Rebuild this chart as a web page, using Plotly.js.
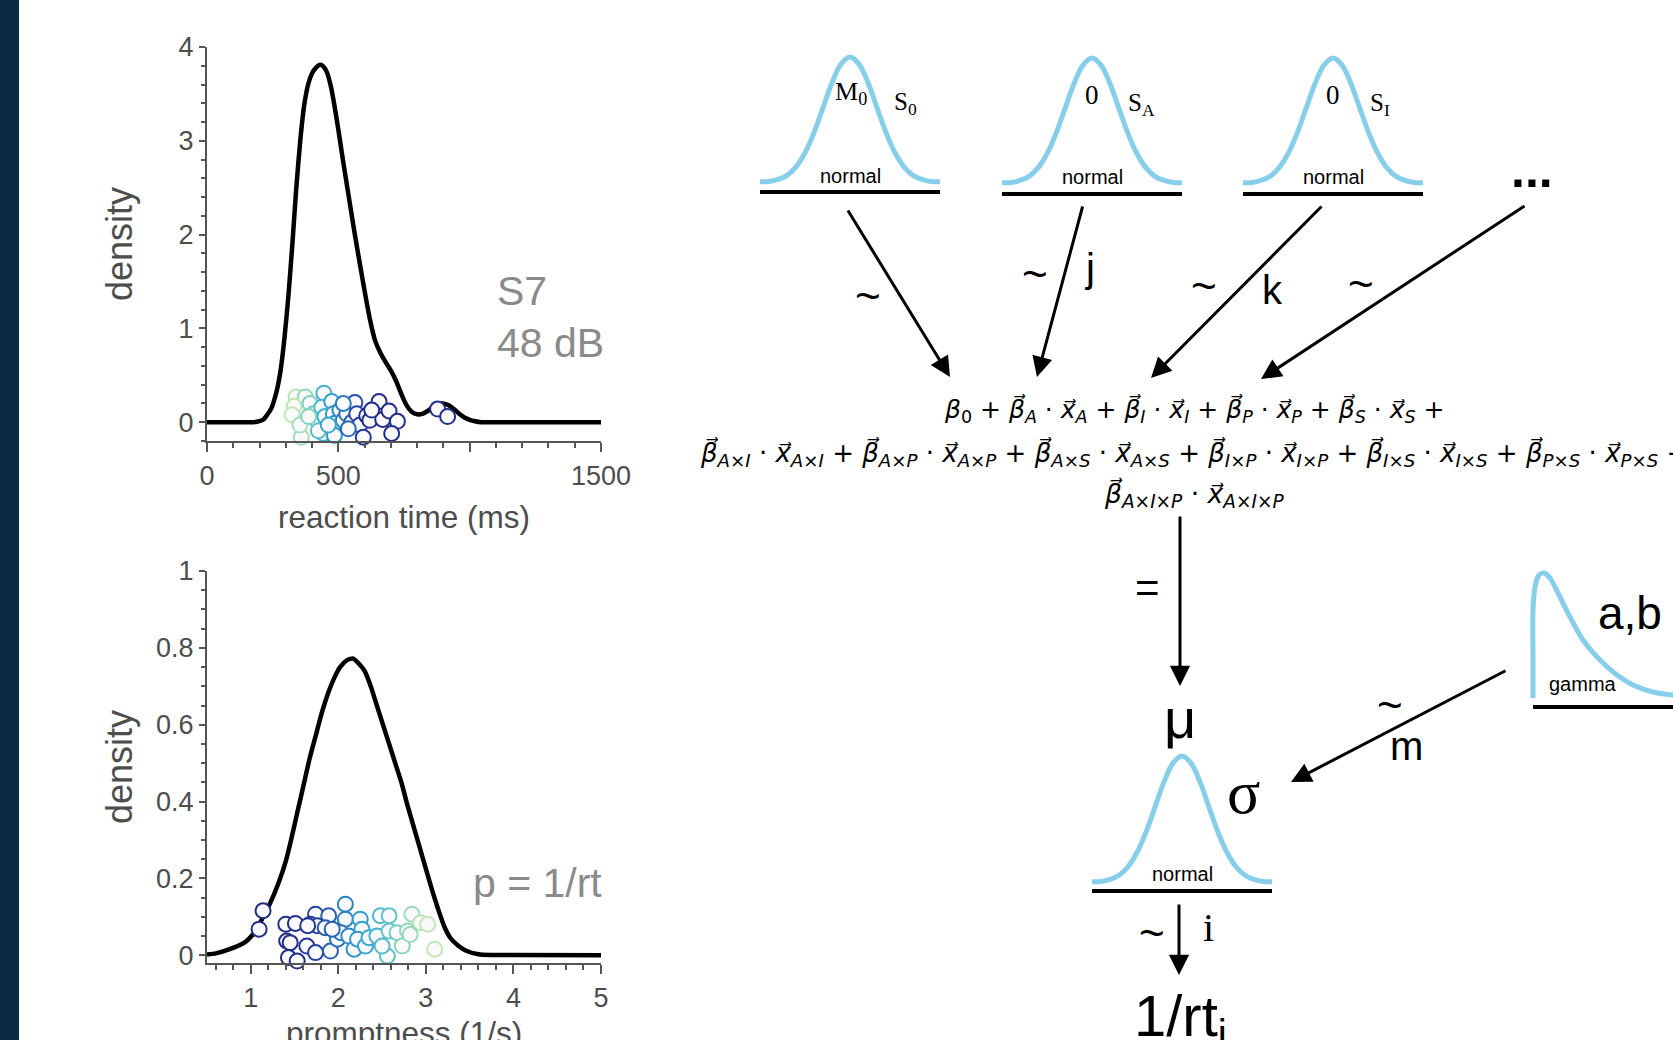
<!DOCTYPE html>
<html><head><meta charset="utf-8">
<script src="https://cdn.plot.ly/plotly-3.0.1.min.js"></script>
<style>html,body{margin:0;padding:0;background:#fff}#chart{width:1673px;height:1040px}</style>
</head><body><div id="chart"></div>
<script>
// ---------- data: reaction-time density (top panel) ----------
const rtGrid = [0,150,190,215,245,265,280,295,310,325,340,355,370,385,400,415,430,440,455,470,485,500,520,540,560,580,600,620,640,660,680,700,720,740,760,780,800,820,840,860,880,900,920,940,960,980,1000,1020,1045,1100,1500];
const rtDensity = [0,0,0.005,0.03,0.15,0.33,0.55,0.9,1.35,1.9,2.5,3.0,3.38,3.6,3.72,3.78,3.81,3.8,3.74,3.6,3.38,3.12,2.75,2.4,2.05,1.72,1.4,1.1,0.87,0.74,0.64,0.55,0.44,0.3,0.18,0.11,0.085,0.09,0.12,0.16,0.19,0.2,0.18,0.14,0.09,0.05,0.025,0.01,0,0,0];
const rtPoints = [339,374,332,324,359,354,392,405,418,445,437,449,443,475,481,487,485,506,519,532,563,551,570,582,595,608,620,655,669,693,725,703,878,916,387,424,462,538,627,519];
const rtJitter = [0.27,0.27,0.17,0.08,-0.16,-0.03,0.20,0.09,0.02,0.31,0.16,0.06,-0.12,0.22,0.09,-0.01,-0.14,0.13,0.02,0.09,0.21,0.00,0.09,-0.03,-0.16,0.07,0.02,0.22,0.03,0.12,0.01,-0.12,0.14,0.06,0.06,-0.09,-0.03,-0.07,0.13,0.20];

// ---------- data: promptness density (bottom panel) ----------
const pGrid = [0.5,0.6,0.76,0.94,1.0,1.05,1.13,1.22,1.32,1.4,1.46,1.53,1.6,1.67,1.74,1.81,1.88,1.95,2.02,2.1,2.17,2.23,2.3,2.37,2.44,2.51,2.58,2.65,2.72,2.79,2.86,2.93,3.0,3.07,3.14,3.21,3.28,3.37,3.46,3.6,3.74,4.0,5.0];
const pDensity = [0.002,0.005,0.016,0.035,0.048,0.062,0.095,0.135,0.19,0.245,0.30,0.37,0.44,0.51,0.57,0.63,0.68,0.72,0.75,0.768,0.772,0.76,0.74,0.70,0.65,0.60,0.55,0.50,0.45,0.39,0.335,0.28,0.225,0.17,0.12,0.075,0.045,0.025,0.012,0.003,0.001,0.0005,0];
const pPoints = [1.14,1.095,1.40,1.51,1.41,1.45,1.43,1.53,1.64,1.74,1.89,1.68,1.76,1.85,1.74,1.91,1.99,2.08,2.08,2.03,2.12,2.18,2.25,2.27,2.22,2.31,2.35,2.48,2.58,2.44,2.58,2.56,2.50,2.67,2.73,2.79,2.84,2.94,3.02,2.82,3.10,1.93,1.65];
const pJitter = [0.116,0.068,0.081,0.083,0.037,0.033,-0.006,-0.015,0.024,0.107,0.103,0.081,0.077,0.072,0.007,0.011,0.042,0.133,0.094,0.059,0.050,0.016,0.094,0.068,0.042,0.024,0.046,0.103,0.103,0.050,0.063,-0.002,0.024,0.059,0.024,0.063,0.107,0.085,0.081,0.054,0.016,0.068,0.077];

// ---------- ticks ----------
const rtTicks = [0,500,1000,1500];
const rtTickText = ['0','500','','1500'];
const densTopTicks = [0,1,2,3,4];
const pTicks = [1,2,3,4,5];
const densBotTicks = [0,0.2,0.4,0.6,0.8,1];
const densBotText = ['0','0.2','0.4','0.6','0.8','1'];

// ---------- model diagram (pixel layout on a hidden axis) ----------
const bellShapeDx = [-1,-0.9,-0.8,-0.7,-0.6,-0.5,-0.4,-0.3,-0.2,-0.1,0,0.1,0.2,0.3,0.4,0.5,0.6,0.7,0.8,0.9,1];
const bellShapeDy = [0.01,0.012,0.028,0.061,0.128,0.24,0.40,0.598,0.796,0.944,1,0.944,0.796,0.598,0.40,0.24,0.128,0.061,0.028,0.012,0.01];
const normalCx = [850,1092,1333,1182];
const normalBaseY = [183,184,184,883];
const normalPeakY = [57,58,58,756];
const normalHalfW = [90,90,90,90];
const baseLineY = [192,194,194,891];
const gammaShapeDx = [0,0,0,2,6,11,17,25,37,50,67,84,100,120,140,170];
const gammaShapeDy = [0,38,88,111,123,125,120,105,81,58,38,23,13,6,3,1];
const gammaOrigin = [1533,698];
const gammaBase = [1533,1700,707];

const arrowTailX = [847,1083,1323,1526,1180,1507,1179];
const arrowTailY = [209,205,205,205,515,670,903];
const arrowTipX  = [950,1037,1151,1261,1180,1291,1179];
const arrowTipY  = [377,377,378,379,686,782,975];

const diagText = ['M<sub>0</sub>','S<sub>0</sub>','0','S<sub>A</sub>','0','S<sub>I</sub>','normal','normal','normal','normal','<b>...</b>','~','~','j','~','k','~','=','μ','σ','a,b','gamma','~','m','~','i','1/rt<sub>i</sub>'];
const diagX = [851,905,1092,1141,1333,1380,850,1092,1333,1182,1532,868,1035,1090,1204,1272,1361,1147,1180,1243,1630,1583,1390,1406,1152,1208,1180];
const diagY = [93,103,95,104,95,104,176,177,177,874,170,295,273,268,285,290,283,587,718,792,613,684,704,746,932,927,1020];
const diagSize = [26,25,27,25,27,25,20,20,20,20,50,44,44,40,44,40,44,42,56,62,46,20,44,40,44,40,58];
const diagSerif = [1,1,1,1,1,1,0,0,0,0,0,0,0,0,0,0,0,0,0,1,0,0,0,0,0,1,0];

const panelText = ['S7','48 dB','p = 1/rt','promptness (1/s)'];
const panelX = [495,495,604,404];
const panelY = [291,343,883,1033];
const panelAnchor = ['left','left','right','center'];
const panelSize = [41,41,41,31.5];
const panelColor = ['#8a8a8a','#8a8a8a','#8a8a8a','#4d4d4d'];

const formulaTerms1 = ['A','I','P','S'];
const formulaTerms2 = ['A×I','A×P','A×S','I×P','I×S','P×S'];
const formulaTerm3 = 'A×I×P';
const formulaX = 1194;
const formulaY = [410,454,494];
const formulaSize = [25,26,26.5];

// ---------- build ----------
const SANS = 'Liberation Sans, Arial, Helvetica, sans-serif';
const SERIF = 'Liberation Serif, Times New Roman, serif';
const MATH = 'DejaVu Sans, sans-serif';
const AX = '#555555', TXT = '#4d4d4d';
const seq = [[0,'#c2e6b6'],[0.22,'#7ccfbf'],[0.42,'#3aaed0'],[0.6,'#2a8cc4'],[0.75,'#2a5fae'],[0.9,'#26399a'],[1,'#212e88']];

const traces = [];
traces.push({type:'scatter',mode:'lines',x:rtGrid,y:rtDensity,xaxis:'x',yaxis:'y',line:{color:'#000',width:4.5,shape:'spline',smoothing:0.6},hoverinfo:'skip',showlegend:false});
traces.push({type:'scatter',mode:'markers',x:rtPoints,y:rtJitter,xaxis:'x',yaxis:'y',cliponaxis:false,showlegend:false,
  marker:{size:15,color:'#fafafc',line:{width:2,color:rtPoints,colorscale:seq,cmin:330,cmax:620}}});
traces.push({type:'scatter',mode:'lines',x:pGrid,y:pDensity,xaxis:'x2',yaxis:'y2',line:{color:'#000',width:4.5,shape:'spline',smoothing:0.6},hoverinfo:'skip',showlegend:false});
traces.push({type:'scatter',mode:'markers',x:pPoints,y:pJitter,xaxis:'x2',yaxis:'y2',cliponaxis:false,showlegend:false,
  marker:{size:15,color:'#fafafc',line:{width:2,color:pPoints,colorscale:seq,reversescale:true,cmin:1.55,cmax:3.0}}});

for(let i=0;i<normalCx.length;i++){
  const h = normalBaseY[i]-normalPeakY[i];
  traces.push({type:'scatter',mode:'lines',xaxis:'x3',yaxis:'y3',showlegend:false,hoverinfo:'skip',
    x:bellShapeDx.map(d=>normalCx[i]+d*normalHalfW[i]), y:bellShapeDy.map(v=>normalBaseY[i]-v*h),
    line:{color:'#87ceeb',width:5,shape:'spline',smoothing:1}});
  traces.push({type:'scatter',mode:'lines',xaxis:'x3',yaxis:'y3',showlegend:false,hoverinfo:'skip',
    x:[normalCx[i]-normalHalfW[i],normalCx[i]+normalHalfW[i]], y:[baseLineY[i],baseLineY[i]],
    line:{color:'#000',width:4}});
}
traces.push({type:'scatter',mode:'lines',xaxis:'x3',yaxis:'y3',showlegend:false,hoverinfo:'skip',
  x:gammaShapeDx.map(d=>gammaOrigin[0]+d), y:gammaShapeDy.map(v=>gammaOrigin[1]-v),
  line:{color:'#87ceeb',width:5,shape:'spline',smoothing:0.8}});
traces.push({type:'scatter',mode:'lines',xaxis:'x3',yaxis:'y3',showlegend:false,hoverinfo:'skip',
  x:[gammaBase[0],gammaBase[1]], y:[gammaBase[2],gammaBase[2]], line:{color:'#000',width:4}});

const annotations = [];
for(let i=0;i<arrowTipX.length;i++){
  annotations.push({xref:'x3',yref:'y3',axref:'x3',ayref:'y3',x:arrowTipX[i],y:arrowTipY[i],ax:arrowTailX[i],ay:arrowTailY[i],
    text:'',showarrow:true,arrowhead:2,arrowsize:1.35,arrowwidth:3,arrowcolor:'#000',standoff:0,startstandoff:0});
}
for(let i=0;i<diagText.length;i++){
  annotations.push({xref:'x3',yref:'y3',x:diagX[i],y:diagY[i],text:diagText[i],showarrow:false,xanchor:'center',yanchor:'middle',
    font:{family:diagSerif[i]?SERIF:SANS,size:diagSize[i],color:'#000'}});
}
for(let i=0;i<panelText.length;i++){
  annotations.push({xref:'x3',yref:'y3',x:panelX[i],y:panelY[i],text:panelText[i],showarrow:false,xanchor:panelAnchor[i],yanchor:'middle',
    font:{family:SANS,size:panelSize[i],color:panelColor[i]}});
}
const V = '\u20D7';
const term = s => `<i>β${V}</i><sub><i>${s}</i></sub> · <i>x${V}</i><sub><i>${s}</i></sub>`;
const fLines = [
  `<i>β</i><sub>0</sub> + ` + formulaTerms1.map(term).join(' + ') + ' +',
  formulaTerms2.map(term).join(' + ') + ' +',
  term(formulaTerm3)
];
fLines.forEach((t,i)=>annotations.push({xref:'x3',yref:'y3',x:formulaX,y:formulaY[i],text:t,showarrow:false,xanchor:'center',yanchor:'middle',
  font:{family:MATH,size:formulaSize[i],color:'#000'}}));

function axisBase(){
  return {showline:true,linecolor:AX,linewidth:2,ticks:'outside',tickcolor:AX,tickwidth:2,ticklen:9,showgrid:false,zeroline:false,
    automargin:false,fixedrange:true,tickfont:{family:SANS,size:27,color:TXT}};
}
const layout = {
  width:1673,height:1040,margin:{l:0,r:0,t:0,b:0},paper_bgcolor:'#fff',plot_bgcolor:'rgba(0,0,0,0)',showlegend:false,
  xaxis:Object.assign(axisBase(),{domain:[207/1673,601/1673],range:[0,1500],anchor:'y',tickmode:'array',tickvals:rtTicks,ticktext:rtTickText,
    minor:{tickmode:'linear',tick0:0,dtick:100,ticks:'outside',ticklen:5,tickwidth:2,tickcolor:AX},ticklabelstandoff:1,
    title:{text:'reaction time (ms)',font:{family:SANS,size:31.5,color:TXT},standoff:16}}),
  yaxis:Object.assign(axisBase(),{domain:[1-441/1040,1-47/1040],range:[-0.2,4],anchor:'x',tickmode:'array',tickvals:densTopTicks,ticklen:6,
    minor:{tickmode:'linear',tick0:0,dtick:0.2,ticks:'outside',ticklen:4,tickwidth:2,tickcolor:AX},
    title:{text:'density',font:{family:SANS,size:36,color:TXT},standoff:35}}),
  xaxis2:Object.assign(axisBase(),{domain:[207/1673,601/1673],range:[0.5,5],anchor:'y2',tickmode:'array',tickvals:pTicks,
    minor:{tickmode:'linear',tick0:0,dtick:0.2,ticks:'outside',ticklen:5,tickwidth:2,tickcolor:AX},ticklabelstandoff:1}),
  yaxis2:Object.assign(axisBase(),{domain:[1-963/1040,1-571/1040],range:[-0.02,1],anchor:'x2',tickmode:'array',tickvals:densBotTicks,ticktext:densBotText,ticklen:6,
    minor:{tickmode:'linear',tick0:0,dtick:0.05,ticks:'outside',ticklen:4,tickwidth:2,tickcolor:AX},
    title:{text:'density',font:{family:SANS,size:36,color:TXT},standoff:12}}),
  xaxis3:{domain:[0,1],range:[0,1673],anchor:'y3',visible:false,fixedrange:true},
  yaxis3:{domain:[0,1],range:[1040,0],anchor:'x3',visible:false,fixedrange:true},
  shapes:[{type:'rect',xref:'paper',yref:'paper',x0:0,x1:19/1673,y0:0,y1:1,fillcolor:'#0b2943',line:{width:0},layer:'below'}],
  annotations:annotations
};
Plotly.newPlot('chart',traces,layout,{displayModeBar:false,staticPlot:true});
</script></body></html>
